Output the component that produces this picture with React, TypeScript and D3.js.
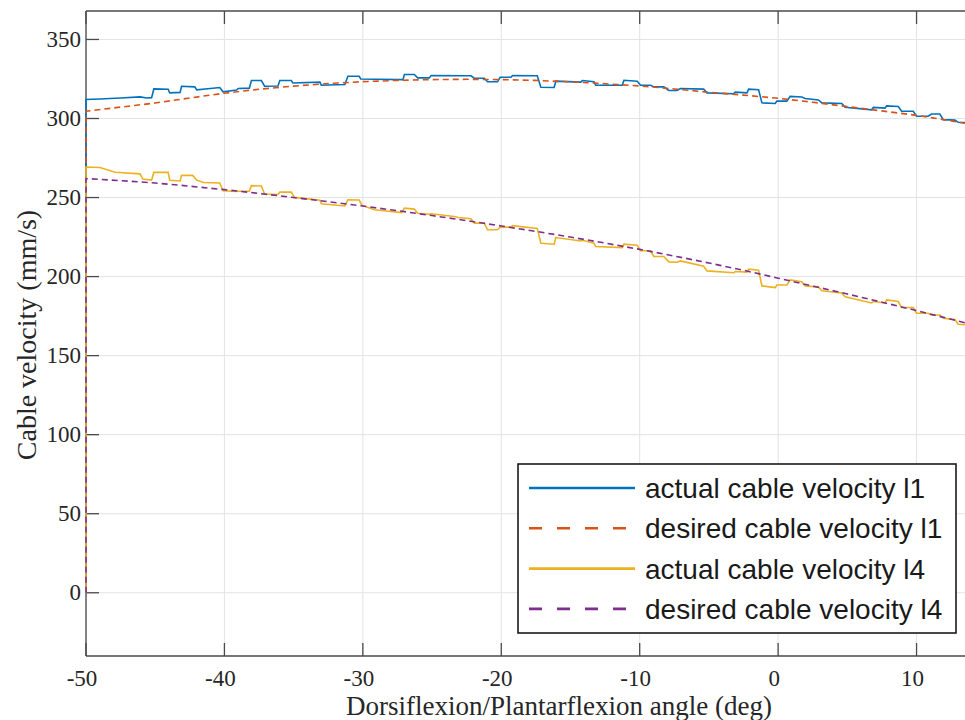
import React from 'react';
import * as d3 from 'd3';

const W = 965;
const H = 720;
const M = { left: 86, right: 965, top: 11, bottom: 656 };

const xTicks = [-50, -40, -30, -20, -10, 0, 10];
const yTicks = [0, 50, 100, 150, 200, 250, 300, 350];

// desired curves, read every 2.5 deg
const desiredAngles = [-50, -50, -47.5, -45, -42.5, -40, -37.5, -35, -32.5, -30, -27.5, -25, -22.5, -20, -17.5, -15, -12.5, -10, -7.5, -5, -2.5, 0, 2.5, 5, 7.5, 10, 12.5, 13.5];
const desiredL1 = [0, 304.6, 307.2, 309.8, 313, 316, 318.5, 320.5, 322.1, 323.3, 324.1, 324.6, 324.8, 324.6, 324.1, 323.2, 322, 320.6, 318.7, 316.6, 314.8, 312.8, 310.3, 307.5, 304.8, 302, 298.5, 297];
const desiredL4 = [0, 262, 260.7, 259.2, 257.2, 255, 252.6, 250, 247.4, 244.6, 241.7, 238.6, 235.4, 232, 228.6, 225, 221.2, 217.2, 213, 208.6, 204, 199, 194, 189, 183.8, 178.5, 173, 170.8];

// measured curves (step-like encoder readings)
const actualL1: [number, number][] = [
  [-50, 0], [-50, 312], [-49, 312.3], [-47.5, 313], [-46.1, 313.7], [-45.6, 313], [-45.26, 313.2], [-45.1, 318.7],
  [-44.07, 318.5], [-43.95, 316.2], [-43.2, 316.5], [-43.1, 320.4], [-42.14, 320], [-42.0, 318.1], [-41.2, 318.8],
  [-40.34, 319.6], [-40.1, 316.9], [-39.13, 318], [-39.0, 319], [-38.2, 319.2], [-38.05, 324], [-37.33, 324],
  [-37.1, 320.4], [-36.13, 320.6], [-36.0, 324], [-35.17, 324], [-35.05, 322.5], [-33.1, 323], [-33.0, 321],
  [-31.3, 321.5], [-31.08, 326.7], [-30.27, 326.7], [-30.15, 325], [-29.16, 324.8], [-27.1, 324.6], [-27.0, 327.8],
  [-26.28, 327.8], [-26.04, 325.7], [-25.2, 325.7], [-25.07, 327.2], [-22.19, 327], [-21.95, 325.5], [-21.23, 325.5],
  [-20.99, 323.2], [-20.27, 323.2], [-20.08, 326.1], [-19.3, 326.1], [-19.19, 327.2], [-17.4, 327], [-17.14, 319.8],
  [-16.18, 319.6], [-16.06, 323.6], [-14.26, 323], [-14.14, 324], [-13.3, 323.2], [-13.18, 321], [-11.26, 321],
  [-11.14, 324.2], [-10.18, 323.6], [-9.94, 321], [-9.22, 321], [-8.98, 320], [-8.26, 320], [-7.9, 317.8],
  [-7.3, 317.7], [-7.06, 319], [-5.38, 318.6], [-5.14, 316.2], [-3.21, 315.7], [-3.09, 316.7], [-2.25, 316.2],
  [-2.13, 318.6], [-1.41, 318.2], [-1.17, 309.9], [-0.21, 309.5], [-0.09, 311], [0.63, 311], [0.87, 314],
  [1.71, 313.6], [1.95, 312.6], [2.91, 311.7], [3.16, 309.9], [4.6, 309.5], [4.84, 307.1], [6.76, 305.5],
  [6.88, 307], [7.72, 306.6], [7.84, 308], [8.68, 307.6], [8.92, 304.6], [9.76, 304.6], [10.0, 301.4],
  [10.84, 301.4], [11.08, 302.8], [11.68, 302.8], [11.93, 299.3], [12.77, 299], [13.01, 297.6], [13.5, 297.4],
];

const actualL4: [number, number][] = [
  [-50, 0], [-50, 269.3], [-49, 269], [-47.9, 266], [-46.1, 265], [-45.9, 261.7], [-45.26, 261], [-45.1, 265.9],
  [-44.07, 265.9], [-43.95, 260.9], [-43.2, 260.5], [-43.1, 264], [-42.3, 264], [-42.0, 261], [-41.5, 259.5],
  [-40.34, 259.2], [-40.1, 254.3], [-39.13, 253.8], [-39.0, 254], [-38.2, 254], [-38.05, 257.5], [-37.33, 257.3],
  [-37.1, 252.2], [-36.13, 251.9], [-36.0, 253.4], [-35.17, 253.4], [-34.95, 250.1], [-33.1, 248.3], [-33.0, 246],
  [-31.3, 244.7], [-31.08, 248.6], [-30.27, 248.4], [-30.05, 245], [-29.16, 242.3], [-27.2, 240.5], [-27.0, 243.3],
  [-26.28, 242.7], [-26.04, 240], [-25.2, 239.4], [-25.07, 239.7], [-23.4, 238], [-23.1, 237.4], [-22.19, 236.6],
  [-21.95, 233.8], [-21.23, 233.8], [-20.99, 229.6], [-20.27, 229.6], [-20.08, 231.3], [-19.3, 231.3],
  [-19.19, 232.2], [-17.4, 230.5], [-17.14, 221.1], [-16.18, 220.5], [-16.06, 224.7], [-14.26, 222.5],
  [-14.14, 223], [-13.3, 221.1], [-13.18, 219], [-11.26, 218.3], [-11.14, 220.5], [-10.18, 219.8], [-9.94, 216.3],
  [-9.22, 216.3], [-8.98, 212.7], [-8.26, 212.7], [-7.9, 209.3], [-7.3, 209.1], [-7.06, 209.9], [-5.38, 206.5],
  [-5.14, 203.6], [-3.21, 202.4], [-3.09, 203.2], [-2.25, 202.8], [-2.13, 204.7], [-1.41, 204], [-1.17, 194.1],
  [-0.21, 193], [-0.09, 194.7], [0.63, 194.7], [0.87, 197.9], [1.71, 196.8], [1.95, 194], [2.91, 193.5],
  [3.16, 191], [4.6, 189.6], [4.84, 187.3], [6.76, 183.3], [6.88, 184.2], [7.72, 183.3], [7.84, 185.2],
  [8.68, 184.2], [8.92, 180.4], [9.76, 180.4], [10.0, 176.8], [10.84, 176.8], [11.08, 175.7], [11.68, 175.7],
  [11.93, 173.6], [12.77, 172.8], [13.01, 169.8], [13.5, 169.5],
];

const legendLabels = ['actual cable velocity l1', 'desired cable velocity l1', 'actual cable velocity l4', 'desired cable velocity l4'];
const colors = ['#0072BD', '#D95319', '#EDB120', '#7E2F8E'];

const App = () => {
  const x = d3.scaleLinear().domain([-50, 13.5]).range([M.left, M.right]);
  const y = d3.scaleLinear().domain([-40, 368]).range([M.bottom, M.top]);
  const line = d3.line<[number, number]>().x(d => x(d[0])).y(d => y(d[1]));

  const d1 = desiredAngles.map((a, i) => [a, desiredL1[i]] as [number, number]);
  const d4 = desiredAngles.map((a, i) => [a, desiredL4[i]] as [number, number]);

  const series = [
    { data: actualL1, color: colors[0], dash: null },
    { data: d1, color: colors[1], dash: '6,4' },
    { data: actualL4, color: colors[2], dash: null },
    { data: d4, color: colors[3], dash: '6,4' },
  ];

  const axisColor = '#4a4a4a';
  const serif = '"Liberation Serif", "Times New Roman", serif';
  const lg = { x0: 518, y0: 464, x1: 956, y1: 633 };

  return (
    <svg width={W} height={H} style={{ position: 'absolute', left: 0, top: 0, background: '#fff' }}>
      <defs>
        <clipPath id="plot">
          <rect x={M.left - 2} y={M.top} width={M.right - M.left + 4} height={M.bottom - M.top} />
        </clipPath>
      </defs>
      <rect x={0} y={0} width={W} height={H} fill="#fff" />
      {/* grid */}
      {xTicks.map(t => (
        <line key={'gx' + t} x1={x(t)} x2={x(t)} y1={M.top} y2={M.bottom} stroke="#e3e3e3" strokeWidth={1} />
      ))}
      {yTicks.map(t => (
        <line key={'gy' + t} x1={M.left} x2={M.right} y1={y(t)} y2={y(t)} stroke="#e3e3e3" strokeWidth={1} />
      ))}
      {/* frame */}
      <line x1={M.left} x2={M.left} y1={M.top} y2={M.bottom} stroke={axisColor} strokeWidth={1.3} />
      <line x1={M.left} x2={M.right + 5} y1={M.bottom} y2={M.bottom} stroke={axisColor} strokeWidth={1.3} />
      <line x1={M.left} x2={M.right + 5} y1={M.top} y2={M.top} stroke={axisColor} strokeWidth={1.3} />
      {/* ticks */}
      {xTicks.map(t => (
        <g key={'tx' + t}>
          <line x1={x(t)} x2={x(t)} y1={M.bottom} y2={M.bottom - 13} stroke={axisColor} strokeWidth={1.3} />
          <line x1={x(t)} x2={x(t)} y1={M.top} y2={M.top + 13} stroke={axisColor} strokeWidth={1.3} />
          <text x={x(t) - 4} y={686} textAnchor="middle" fontFamily={serif} fontSize={23} fill="#262626">{t}</text>
        </g>
      ))}
      {yTicks.map(t => (
        <g key={'ty' + t}>
          <line x1={M.left} x2={M.left + 13} y1={y(t)} y2={y(t)} stroke={axisColor} strokeWidth={1.3} />
          <text x={81} y={y(t) + 7.5} textAnchor="end" fontFamily={serif} fontSize={23} fill="#262626">{t}</text>
        </g>
      ))}
      {/* series */}
      <g clipPath="url(#plot)">
        {series.map((s, i) => (
          <path key={i} d={line(s.data) || ''} fill="none" stroke={s.color} strokeWidth={1.6}
            strokeDasharray={s.dash || undefined} />
        ))}
      </g>
      {/* axis labels */}
      <text x={559} y={715} textAnchor="middle" fontFamily={serif} fontSize={27} fill="#262626">
        Dorsiflexion/Plantarflexion angle (deg)
      </text>
      <text transform="translate(36,335) rotate(-90)" textAnchor="middle" fontFamily={serif} fontSize={28} fill="#262626">
        Cable velocity (mm/s)
      </text>
      {/* legend */}
      <rect x={lg.x0} y={lg.y0} width={lg.x1 - lg.x0} height={lg.y1 - lg.y0} fill="#fff" stroke="#1a1a1a" strokeWidth={1.6} />
      {legendLabels.map((lab, i) => {
        const cy = 488 + i * 40.3;
        return (
          <g key={lab}>
            <line x1={529} x2={i % 2 === 1 ? 626 : 635} y1={cy} y2={cy} stroke={colors[i]} strokeWidth={2.6}
              strokeDasharray={i % 2 === 1 ? '13,15' : undefined} />
            <text x={645} y={cy + 10} fontFamily='"Liberation Sans", Arial, sans-serif' fontSize={28} fill="#1a1a1a">{lab}</text>
          </g>
        );
      })}
    </svg>
  );
};

export default App;
